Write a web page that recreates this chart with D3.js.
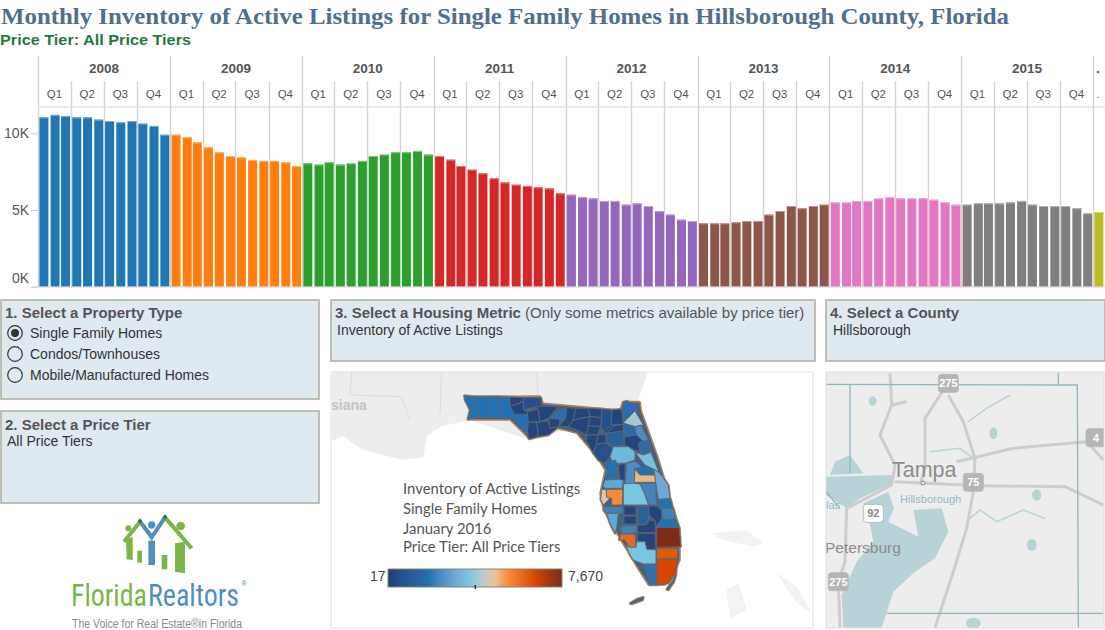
<!DOCTYPE html>
<html><head><meta charset="utf-8">
<script src="https://d3js.org/d3.v7.min.js"></script>
<style>html,body{margin:0;padding:0;background:#fff;overflow:hidden}svg{display:block}text{font-family:"Liberation Sans",Arial,sans-serif}</style>
</head><body><svg id="c" width="1105" height="630"></svg>
<script>
// ---------- data ----------
const years=[2008,2009,2010,2011,2012,2013,2014,2015];
const quarters=["Q1","Q2","Q3","Q4"];
const yearColors=["#1f77b4","#ff7f0e","#2ca02c","#d62728","#9467bd","#8c564b","#e377c2","#7f7f7f","#bcbd22"];
const v2008=[11.04,11.2,11.13,11.04,11.04,10.89,10.8,10.72,10.8,10.63,10.48,9.91];
const v2009=[9.91,9.74,9.41,9.09,8.76,8.52,8.43,8.26,8.2,8.2,8.11,7.87];
const v2010=[8.04,7.96,8.11,7.96,8.04,8.2,8.52,8.61,8.76,8.76,8.85,8.61];
const v2011=[8.52,8.28,7.87,7.63,7.39,7.07,6.8,6.65,6.57,6.48,6.41,6.09];
const v2012=[6.0,5.85,5.76,5.59,5.59,5.35,5.43,5.26,4.93,4.7,4.37,4.28];
const v2013=[4.13,4.13,4.13,4.2,4.28,4.28,4.7,4.93,5.26,5.11,5.26,5.35];
const v2014=[5.5,5.5,5.59,5.59,5.76,5.85,5.76,5.76,5.76,5.67,5.5,5.35];
const v2015=[5.35,5.43,5.43,5.43,5.5,5.59,5.35,5.26,5.26,5.26,5.11,4.78];
const v2016=[4.87];
const allYears=[v2008,v2009,v2010,v2011,v2012,v2013,v2014,v2015,v2016];
const yTicks=[0,5,10];
const legendColors=["#1f3e6e","#23528f","#2a5d9c","#1f72b4","#4d8dc3","#6fa8d6","#79c6e0","#b9c9d0","#e8c49a","#f98a35","#e56a21","#d84500","#a03a10","#7f2b17"];
const stateShape=[[403,80],[630,78],[640,100],[870,120],[878,95],[930,95],[935,125],[985,265],[1050,480],[1050,570],[1030,620],[1005,645],[955,645],[920,590],[860,490],[820,420],[815,395],[810,370],[825,300],[800,260],[740,190],[680,175],[600,208],[540,150],[415,150],[420,120]];
const panhandle=[
 ["#1f72b4",[[28,32],[58,35],[62,60],[68,80],[70,97],[38,103],[45,75],[30,45]]],
 ["#1f72b4",[[58,35],[100,35],[100,96],[70,97],[68,80],[62,60]]],
 ["#1f72b4",[[100,35],[133,35],[133,97],[100,96]]],
 ["#1f72b4",[[133,35],[165,36],[165,62],[178,88],[170,98],[133,97]]],
 ["#23457a",[[165,36],[205,38],[205,48],[180,60],[165,62]]],
 ["#1f72b4",[[170,98],[178,88],[217,88],[220,135],[222,160],[195,122]]],
 ["#23457a",[[180,60],[205,50],[207,75],[217,80],[217,88],[178,88],[165,62]]],
 ["#27508a",[[205,38],[258,38],[262,63],[225,70],[207,75],[205,50]]],
 ["#23457a",[[217,80],[250,72],[255,110],[220,112]]],
 ["#23457a",[[220,112],[245,112],[248,135],[250,155],[222,162],[217,140]]],
 ["#23457a",[[225,70],[262,63],[310,65],[280,100],[255,110],[250,72]]],
 ["#1f72b4",[[312,80],[335,68],[332,105],[305,103],[280,100],[300,90]]],
 ["#23457a",[[280,100],[315,103],[312,125],[285,130]]],
 ["#23457a",[[245,112],[280,108],[285,130],[312,125],[280,150],[250,155]]],
 ["#23457a",[[335,68],[362,70],[355,105],[340,125],[312,125],[332,100]]],
 ["#23457a",[[362,70],[400,70],[405,95],[355,105]]],
 ["#23457a",[[355,105],[405,95],[400,122],[395,150],[365,135],[340,125]]],
 ["#23457a",[[400,70],[440,72],[440,98],[405,95]]],
 ["#23457a",[[405,95],[440,98],[437,125],[400,122]]],
 ["#23457a",[[400,122],[437,125],[428,150],[395,150]]],
 ["#23457a",[[395,150],[428,150],[425,178],[415,205],[395,170]]],
 ["#27508a",[[440,72],[470,75],[470,120],[445,140],[437,125],[440,98]]],
 ["#23457a",[[470,75],[500,72],[505,118],[470,120]]],
 ["#23457a",[[445,140],[470,120],[480,122],[452,145]]],
 ["#23457a",[[480,122],[505,118],[505,138],[452,145]]],
 ["#23457a",[[428,150],[452,147],[455,175],[450,173],[425,178]]],
 ["#27508a",[[415,205],[425,178],[450,173],[475,190],[465,215],[448,235],[430,225]]],
 ["#2d5f98",[[452,145],[505,138],[508,180],[475,185],[455,175]]],
 ["#2b6cb0",[[505,52],[515,48],[555,65],[540,78],[508,110],[502,72]]],
 ["#a9c4d2",[[508,110],[540,78],[565,120],[540,125],[505,115]]],
 ["#2f6aa8",[[505,115],[540,125],[545,150],[508,155]]],
 ["#4d8dc3",[[540,125],[558,120],[580,165],[565,170],[545,155]]],
 ["#23457a",[[508,155],[545,150],[565,170],[550,200],[520,185],[508,180]]],
 ["#2f6aa8",[[555,170],[580,165],[588,200],[560,208],[550,180]]],
 ["#6db8dc",[[465,215],[475,185],[520,185],[540,200],[540,225],[510,235],[475,235]]],
 ["#74c3dd",[[540,202],[565,210],[588,202],[605,245],[612,262],[595,252],[570,240]]],
 ["#1f72b4",[[450,235],[482,225],[490,258],[455,260]]],
 ["#23457a",[[490,240],[510,235],[510,285],[495,292]]],
 ["#4d8dc3",[[515,235],[540,228],[560,245],[538,252],[540,298],[510,298]]],
 ["#1f72b4",[[560,245],[595,255],[595,270],[555,270],[538,252]]]
];
const peninsula=[
 ["#1f72b4",[[48,36],[85,38],[85,55],[45,58]]],
 ["#5ba9d8",[[38,80],[45,60],[85,58],[100,60],[97,85],[48,85]]],
 ["#f98a35",[[50,88],[98,88],[97,135],[65,135],[65,115],[48,112]]],
 ["#d9c9ae",[[35,88],[48,88],[50,112],[60,115],[40,135],[32,118]]],
 ["#e8b78a",[[135,28],[150,45],[195,45],[197,67],[133,67]]],
 ["#6fa8d6",[[192,28],[210,40],[235,75],[240,115],[205,118],[197,67]]],
 ["#4483bb",[[150,70],[197,70],[200,135],[178,135],[165,105]]],
 ["#79c6e0",[[100,72],[130,70],[150,72],[165,105],[175,135],[100,135]]],
 ["#3d83bb",[[45,140],[97,140],[97,160],[50,160],[40,150]]],
 ["#5ba9d8",[[50,160],[85,160],[80,205],[75,220],[60,190]]],
 ["#23457a",[[102,138],[138,138],[138,165],[102,165]]],
 ["#23457a",[[102,168],[138,168],[138,192],[102,192]]],
 ["#3d83bb",[[97,197],[140,197],[140,218],[95,222],[90,205]]],
 ["#2d5f9a",[[143,140],[175,140],[178,165],[168,195],[145,195]]],
 ["#23457a",[[175,138],[213,138],[215,175],[200,200],[195,182],[178,165]]],
 ["#1f72b4",[[205,120],[242,118],[248,145],[205,145]]],
 ["#3d83bb",[[215,145],[250,145],[258,178],[218,178]]],
 ["#1f72b4",[[200,200],[218,178],[260,180],[268,203],[200,203]]],
 ["#7f2b17",[[200,203],[268,203],[272,260],[200,262]]],
 ["#23457a",[[143,195],[168,195],[178,182],[195,182],[198,218],[143,218]]],
 ["#23457a",[[143,220],[195,220],[198,268],[170,268],[165,245],[143,243]]],
 ["#e56a21",[[90,225],[95,222],[135,222],[138,262],[118,262],[105,240],[88,240]]],
 ["#79c6e0",[[108,255],[118,262],[138,262],[140,245],[165,245],[170,268],[198,270],[198,312],[160,312],[130,300],[120,285]]],
 ["#e35b00",[[200,265],[265,265],[262,295],[200,297]]],
 ["#d84500",[[200,298],[262,298],[258,340],[235,370],[200,375]]],
 ["#2f72b0",[[160,313],[198,313],[200,375],[178,375],[170,340]]],
 ["#3a6a9a",[[230,388],[250,360],[258,345],[252,365],[235,390]]],
 ["#3a6a9a",[[120,430],[140,418],[160,412],[158,420],[125,432]]]
];
const landShapes=[
 [[3,3],[955,3],[925,90],[880,130],[600,210],[420,150],[330,170],[290,200],[280,262],[220,270],[100,240],[40,198],[3,215]],
 [[1140,490],[1250,480],[1300,520],[1270,530],[1180,510]],
 [[1190,660],[1225,640],[1250,720],[1200,745]],
 [[1340,610],[1400,650],[1445,730],[1400,700]]
];
const stateLines=[[[65,3],[60,75],[215,80],[240,150]],[[335,3],[330,130]],[[620,3],[625,90]]];
const bay=[[130,625],[205,590],[222,640],[205,680],[295,725],[280,645],[365,640],[385,710],[345,790],[285,830],[220,890],[185,998],[70,998],[65,900],[110,800],[160,740],[150,690]];
const oldBay=[[18,545],[215,540],[220,565],[120,610],[80,640],[18,600]];
const upperBay=[[45,500],[90,480],[130,535],[30,540]];
const lakes=[[520,415,12,18],[650,600,14,17],[635,750,15,18],[460,985,22,17],[158,318,12,14]];
const roads=[
 [[385,262],[315,370],[315,520],[300,570]],
 [[385,300],[430,380],[465,490],[460,590],[440,700],[400,830],[345,998]],
 [[410,500],[580,460],[800,440],[850,495]],
 [[210,235],[215,330],[180,420],[225,510],[215,570],[80,640],[75,800],[55,860],[60,998]],
 [[260,320],[215,330]],
 [[225,560],[430,570]],
 [[470,572],[735,575],[850,630]]
];
const rivers=[[[450,670],[480,645],[530,680],[610,645],[675,670]],[[445,380],[500,340],[570,300]],[[330,470],[420,460],[460,490]]];
const countyLines=[[[18,268],[772,270],[775,998]],[[90,268],[90,535]],[[200,955],[850,955]],[[715,232],[715,270]],[[18,590],[60,640]]];
const shields=[["275",385,265,"#b5b5b5","#fff"],["75",460,562,"#b5b5b5","#fff"],["4",828,428,"#b5b5b5","#fff"],["92",160,655,"#fff","#888"],["275",55,860,"#b5b5b5","#fff"]];
const logoStrokes=[
 ["#7ab648",[[192,95],[240,35],[272,75]]],
 ["#4f8fc0",[[240,35],[275,82],[315,22]]],
 ["#7ab648",[[315,22],[395,115]]]
];
const logoBlocks=[
 ["#7ab648",[[198,90],[218,80],[218,150],[200,148]]],
 ["#7ab648",[[232,122],[246,122],[246,158],[232,158]]],
 ["#4f8fc0",[[265,92],[285,92],[285,165],[265,165]]],
 ["#7ab648",[[305,135],[322,135],[322,178],[305,178]]],
 ["#7ab648",[[345,100],[375,95],[375,190],[345,185]]],
 ["#1f7a4a",[[240,25],[247,33],[240,41],[233,33]]],
 ["#1f7a4a",[[315,13],[322,21],[315,29],[308,21]]]
];
const logoHeads=[["#7ab648",205,55,9],["#4f8fc0",275,45,11],["#7ab648",362,48,13]];

// ---------- helpers ----------
const svg=d3.select("#c");
function txt(g,x,y,s,o={}){return g.append("text").attr("x",x).attr("y",y).text(s)
 .attr("font-size",o.size||14).attr("font-weight",o.weight||"normal").attr("fill",o.fill||"#333")
 .attr("text-anchor",o.anchor||"start").style("font-family",o.family||null);}

// ---------- titles ----------
txt(svg,1,24,"Monthly Inventory of Active Listings for Single Family Homes in Hillsborough County, Florida",
 {size:24,weight:"bold",fill:"#4d6f93",family:"'Liberation Serif',serif"}).attr("textLength",1008).attr("lengthAdjust","spacingAndGlyphs");
txt(svg,0,45,"Price Tier: All Price Tiers",{size:15.5,weight:"bold",fill:"#1f7a3f"}).attr("textLength",191).attr("lengthAdjust","spacingAndGlyphs");

// ---------- chart ----------
const x=d3.scaleTime().domain([new Date(2008,0,1),new Date(2016,0,1)]).range([38,1093]);
const y=d3.scaleLinear().domain([0,10]).range([286.7,133.3]);
const gridC="#d4d4d4";
const qStarts=[];
years.forEach(yr=>[0,3,6,9].forEach(m=>qStarts.push(new Date(yr,m,1))));
qStarts.push(new Date(2016,0,1));
const grid=svg.append("g");
grid.selectAll("line").data(qStarts).join("line")
 .attr("x1",d=>Math.round(x(d))+.5).attr("x2",d=>Math.round(x(d))+.5)
 .attr("y1",d=>d.getMonth()===0?56:81).attr("y2",287)
 .attr("stroke",gridC).attr("stroke-width",1.4);
grid.append("line").attr("x1",38).attr("x2",1105).attr("y1",107).attr("y2",107).attr("stroke",gridC).attr("stroke-width",1.2);
const hdr=svg.append("g");
years.forEach(yr=>{
 txt(hdr,(x(new Date(yr,0,1))+x(new Date(yr+1,0,1)))/2,73,yr,{size:13.5,weight:"bold",fill:"#555",anchor:"middle"});
 quarters.forEach((q,i)=>txt(hdr,(x(new Date(yr,i*3,1))+x(new Date(yr,i*3+3,1)))/2,98,q,{size:11.5,fill:"#555",anchor:"middle"}));
});
txt(hdr,1098,73,".",{size:13.5,weight:"bold",fill:"#555",anchor:"middle"});
txt(hdr,1098,98,".",{size:11.5,fill:"#555",anchor:"middle"});

const bars=[];
allYears.forEach((arr,i)=>arr.forEach((v,m)=>bars.push({d:new Date(2008+i,m,1),v,c:yearColors[i]})));
const bg=svg.append("g");
bg.selectAll("rect.b").data(bars).join("rect").attr("class","b")
 .attr("x",d=>x(d.d)+1.4).attr("width",9).attr("y",d=>y(d.v)).attr("height",d=>y(0)-y(d.v)).attr("fill",d=>d.c);
bg.selectAll("rect.t").data(bars).join("rect").attr("class","t")
 .attr("x",d=>x(d.d)+1.4).attr("width",9).attr("y",d=>y(d.v)).attr("height",1)
 .attr("fill",d=>d3.interpolateRgb(d.c,"#fff")(.4));
const yAxis=d3.axisLeft(y).tickValues(yTicks).tickFormat(d=>d+"K").tickSize(7).tickPadding(2);
const ag=svg.append("g").attr("transform","translate(38,0)").call(yAxis);
ag.select(".domain").remove();
ag.selectAll("line").attr("stroke","#ccc");
ag.selectAll("text").attr("font-size",14).attr("fill","#555").style("font-family","'Liberation Sans',Arial,sans-serif")
 .attr("dy",d=>d===0?"-0.3em":"0.3em");
svg.append("line").attr("x1",31).attr("x2",1105).attr("y1",287).attr("y2",287).attr("stroke","#d0d0d0");

// ---------- panels ----------
const panels=[[1,300,318,99],[1,411,318,92],[331,300,484,61],[826,300,279,61]];
svg.append("g").selectAll("rect").data(panels).join("rect")
 .attr("x",d=>d[0]).attr("y",d=>d[1]).attr("width",d=>d[2]).attr("height",d=>d[3])
 .attr("fill","#dfe9f0").attr("stroke","#b3b0a4").attr("stroke-width",1.6);
const ttl={size:15,weight:"bold",fill:"#555"};
txt(svg,5,318,"1. Select a Property Type",ttl);
[["Single Family Homes",333],["Condos/Townhouses",354],["Mobile/Manufactured Homes",375]].forEach(([s,yy],i)=>{
 svg.append("circle").attr("cx",15).attr("cy",yy).attr("r",7.3).attr("fill","none").attr("stroke","#333").attr("stroke-width",1.2);
 if(i===0)svg.append("circle").attr("cx",15).attr("cy",yy).attr("r",4).attr("fill","#333");
 txt(svg,30,yy+5,s,{size:14,fill:"#333"});
});
txt(svg,5,430,"2. Select a Price Tier",ttl);
txt(svg,7,446,"All Price Tiers",{size:14,fill:"#333"});
const t3=txt(svg,335,318,"3. Select a Housing Metric ",ttl);
t3.append("tspan").attr("font-weight","normal").text("(Only some metrics available by price tier)");
txt(svg,337,335,"Inventory of Active Listings",{size:14,fill:"#333"});
txt(svg,830,318,"4. Select a County",ttl);
txt(svg,833,335,"Hillsborough",{size:14,fill:"#333"});

// ---------- state map ----------
const mapG=svg.append("g");
mapG.append("rect").attr("x",331).attr("y",372).attr("width",482).attr("height",256).attr("fill","#fff").attr("stroke","#ddd");
const zx=d3.scaleLinear().domain([0,3]).range([330,331]);
const zy=d3.scaleLinear().domain([0,3]).range([370,371]);
const zl=d3.line().x(d=>zx(d[0])).y(d=>zy(d[1]));
mapG.selectAll("path.land").data(landShapes).join("path").attr("class","land").attr("d",d=>zl(d)+"Z").attr("fill",(d,i)=>i?"#f2f2f2":"#ededed");
mapG.selectAll("path.st").data(stateLines).join("path").attr("class","st").attr("d",d=>zl(d)).attr("fill","none").attr("stroke","#dcdcdc");
txt(mapG,331,410,"siana",{size:14,fill:"#c4c4c4",weight:"bold"});
const nx=d3.scaleLinear().domain([0,3]).range([455,456]), ny=d3.scaleLinear().domain([0,3]).range([385,386]);
const sx=d3.scaleLinear().domain([0,3]).range([590,591]), sy=d3.scaleLinear().domain([0,3]).range([460,461]);
const nl=d3.line().x(d=>nx(d[0])).y(d=>ny(d[1])), sl=d3.line().x(d=>sx(d[0])).y(d=>sy(d[1]));
const counties=panhandle.map(d=>({c:d[0],p:nl(d[1])+"Z"})).concat(peninsula.map(d=>({c:d[0],p:sl(d[1])+"Z"})));
mapG.selectAll("path.halo").data(counties).join("path").attr("class","halo").attr("d",d=>d.p)
 .attr("fill","#a8855c").attr("stroke","#a8855c").attr("stroke-width",2.6).attr("stroke-linejoin","round");
mapG.append("path").attr("d",zl(stateShape)+"Z").attr("fill","#4a5f7c").attr("stroke","#a8855c").attr("stroke-width",1.6).attr("stroke-linejoin","round");
mapG.selectAll("path.cty").data(counties).join("path").attr("class","cty").attr("d",d=>d.p)
 .attr("fill",d=>d.c).attr("stroke","#5f6670").attr("stroke-width",.9).attr("stroke-linejoin","round");
const mt={size:14.9,fill:"#555",family:"Lato,'Open Sans',sans-serif"};
[["Inventory of Active Listings",494],["Single Family Homes",514],["January 2016",534],["Price Tier: All Price Tiers",552]]
 .forEach(([s,yy])=>txt(mapG,403,yy,s,mt));
const defs=svg.append("defs");
const grad=defs.append("linearGradient").attr("id","lg");
legendColors.forEach((c,i)=>grad.append("stop").attr("offset",i/(legendColors.length-1)).attr("stop-color",c));
mapG.append("rect").attr("x",388).attr("y",569).attr("width",174).attr("height",18).attr("fill","url(#lg)").attr("stroke","#8a8378");
mapG.append("rect").attr("x",474.5).attr("y",585).attr("width",1.5).attr("height",4).attr("fill","#333");
txt(mapG,370,581,"17",{size:14,fill:"#444"});
txt(mapG,568,581,"7,670",{size:14,fill:"#444"});

// ---------- county locator map ----------
const rG=svg.append("g");
defs.append("clipPath").attr("id","rc").append("rect").attr("x",826).attr("y",372).attr("width",278).attr("height",256);
rG.attr("clip-path","url(#rc)");
rG.append("rect").attr("x",826).attr("y",372).attr("width",278).attr("height",256).attr("fill","#ededed");
const rx=d3.scaleLinear().domain([0,3]).range([820,821]), ry=d3.scaleLinear().domain([0,3]).range([295,296]);
const rl=d3.line().x(d=>rx(d[0])).y(d=>ry(d[1]));
rG.selectAll("path.w").data([bay,oldBay,upperBay]).join("path").attr("class","w").attr("d",d=>rl(d)+"Z").attr("fill","#b8d3d6");
rG.selectAll("ellipse").data(lakes).join("ellipse").attr("cx",d=>rx(d[0])).attr("cy",d=>ry(d[1])).attr("rx",d=>d[2]/3).attr("ry",d=>d[3]/3).attr("fill","#b8d3d6");
rG.selectAll("path.rv").data(rivers).join("path").attr("class","rv").attr("d",d=>rl(d)).attr("fill","none").attr("stroke","#b8d3d6").attr("stroke-width",1.5);
rG.selectAll("path.rd").data(roads).join("path").attr("class","rd").attr("d",d=>rl(d)).attr("fill","none").attr("stroke","#cdcdcd").attr("stroke-width",3).attr("stroke-linejoin","round");
rG.selectAll("path.cl").data(countyLines).join("path").attr("class","cl").attr("d",d=>rl(d)).attr("fill","none").attr("stroke","#8fb5c0").attr("stroke-width",1.3);
shields.forEach(([s,a,b,f,tc])=>{
 rG.append("rect").attr("x",rx(a)-10).attr("y",ry(b)-9).attr("width",20).attr("height",18).attr("rx",3).attr("fill",f).attr("stroke","#bbb");
 txt(rG,rx(a),ry(b)+4,s,{size:11,fill:tc,anchor:"middle",weight:"bold"});
});
txt(rG,892,477,"Tampa",{size:21.5,fill:"#8c8c8c"});
txt(rG,900,503,"Hillsborough",{size:11,fill:"#8fbac5"});
txt(rG,825,553,"Petersburg",{size:15.5,fill:"#8c8c8c"});
txt(rG,826,509,"las",{size:11,fill:"#8fbac5"});
rG.append("circle").attr("cx",923).attr("cy",483).attr("r",2).attr("fill","#eee").attr("stroke","#888");
svg.append("rect").attr("x",826).attr("y",372).attr("width",278).attr("height",256).attr("fill","none").attr("stroke","#ddd");

// ---------- logo ----------
const lG=svg.append("g");
const lx=d3.scaleLinear().domain([0,3]).range([60,61]), ly=d3.scaleLinear().domain([0,3]).range([510,511]);
const ll=d3.line().x(d=>lx(d[0])).y(d=>ly(d[1]));
lG.selectAll("path.s").data(logoStrokes).join("path").attr("class","s").attr("d",d=>ll(d[1])).attr("fill","none").attr("stroke",d=>d[0]).attr("stroke-width",4);
lG.selectAll("path.k").data(logoBlocks).join("path").attr("class","k").attr("d",d=>ll(d[1])+"Z").attr("fill",d=>d[0]);
lG.selectAll("circle").data(logoHeads).join("circle").attr("cx",d=>lx(d[1])).attr("cy",d=>ly(d[2])).attr("r",d=>d[3]/3).attr("fill",d=>d[0]);
const brand={size:31,family:"'Liberation Sans Narrow','Roboto Condensed',Roboto,sans-serif"};
txt(lG,71,606,"Florida",{...brand,fill:"#7ab648"}).attr("textLength",76).attr("lengthAdjust","spacingAndGlyphs");
txt(lG,148,606,"Realtors",{...brand,fill:"#4f8fc0"}).attr("textLength",91).attr("lengthAdjust","spacingAndGlyphs");
txt(lG,241.5,586,"®",{size:7,fill:"#4f8fc0"});
txt(lG,72,628,"The Voice for Real Estate®in Florida",{size:12.5,fill:"#8a8a8a"}).attr("textLength",170).attr("lengthAdjust","spacingAndGlyphs");
</script></body></html>
